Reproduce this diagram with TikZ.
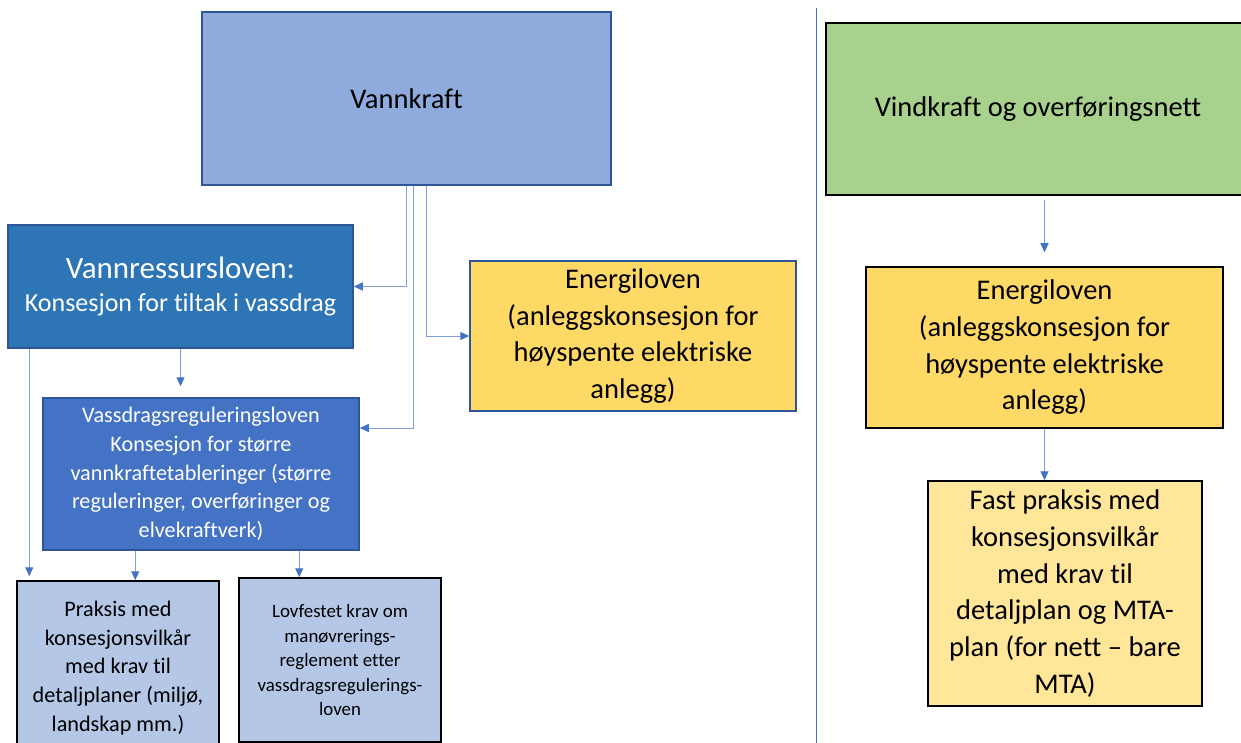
\documentclass[tikz,border=0pt]{standalone}
\usepackage{fontspec}
\setmainfont{Carlito}[Ligatures={TeX,NoCommon}]
\usetikzlibrary{arrows.meta}

\definecolor{vannfill}{HTML}{8FAADC}
\definecolor{vrlfill}{HTML}{2E75B6}
\definecolor{regfill}{HTML}{4472C4}
\definecolor{lightfill}{HTML}{B4C7E7}
\definecolor{energifill}{HTML}{FFD966}
\definecolor{fastfill}{HTML}{FFE699}
\definecolor{vindfill}{HTML}{A9D18E}
\definecolor{edgeblue}{HTML}{2F5597}
\definecolor{lineblue}{HTML}{7FA0DC}
\definecolor{tipblue}{HTML}{4472C4}

\newcommand{\bigtxt}{\fontsize{28.5}{36.7}\selectfont}
\newcommand{\midtxt}{\fontsize{22.2}{28.8}\selectfont}
\newcommand{\smalltxt}{\fontsize{18.9}{24.5}\selectfont}

\tikzstyle{block} = [
        draw=edgeblue, line width=1.5pt, rectangle, inner sep=0pt, align=center
    ]
\tikzstyle{blackblock} = [block, draw=black]
\tikzstyle{tmp} = [coordinate]
\tikzstyle{link} = [->, draw=lineblue, line width=1pt]

\begin{document}
\begin{tikzpicture}[x=1pt, y=-1pt,
        >={Triangle[length=9pt, width=8pt, color=tipblue]}]
    \clip (0,0) rectangle (1241,743);
    % left side: vannkraft
    \node [block, fill=vannfill, minimum width=409pt, minimum height=173pt, font=\bigtxt]
        (vannkraft) at (406.5,98.5) {Vannkraft};
    \node [block, fill=vrlfill, text=white, minimum width=345pt, minimum height=123pt,
        font=\fontsize{26}{33}\selectfont] (vrl) at (180.5,286.5)
        {{\fontsize{31}{33}\selectfont Vannressursloven:}\\Konsesjon for tiltak i vassdrag};
    \node [block, fill=regfill, text=white, minimum width=316pt, minimum height=152pt, font=\midtxt]
        (vrreg) at (201,474) {Vassdragsreguleringsloven\\Konsesjon for større\\vannkraftetableringer (større\\reguleringer, overføringer og\\elvekraftverk)};
    \node [blackblock, fill=lightfill, minimum width=202pt, minimum height=174pt, font=\midtxt]
        (praksis) at (118,668) {Praksis med\\konsesjonsvilkår\\med krav til\\detaljplaner (miljø,\\landskap mm.)};
    \node [blackblock, fill=lightfill, minimum width=202pt, minimum height=164pt, font=\smalltxt]
        (lovfestet) at (340,660) {Lovfestet krav om\\manøvrerings-\\reglement etter\\vassdragsregulerings-\\loven};
    \node [block, fill=energifill, minimum width=326pt, minimum height=150pt, font=\bigtxt]
        (energi1) at (633,336) {Energiloven\\(anleggskonsesjon for\\høyspente elektriske\\anlegg)};
    % right side: vindkraft
    \node [blackblock, fill=vindfill, minimum width=424pt, minimum height=172pt, font=\bigtxt]
        (vind) at (1038,109) {Vindkraft og overføringsnett};
    \node [blackblock, fill=energifill, minimum width=357pt, minimum height=161pt, font=\bigtxt]
        (energi2) at (1044.5,347.5) {Energiloven\\(anleggskonsesjon for\\høyspente elektriske\\anlegg)};
    \node [blackblock, fill=fastfill, minimum width=274pt, minimum height=225pt, font=\bigtxt]
        (fast) at (1065,593.5) {Fast praksis med\\konsesjonsvilkår\\med krav til\\detaljplan og MTA-\\plan (for nett – bare\\MTA)};
    \node [tmp] (v2) at (413,428) {};
    \node [tmp] (divtop) at (816,8) {};
    \node [tmp] (divbot) at (816,743) {};
    \draw [draw=tipblue, line width=1pt] (divtop) -- (divbot);
    \draw [link] (vannkraft.south) |- (vrl.east);
    \draw [link] (vannkraft.south -| v2) -- (v2) -- (v2 -| vrreg.east);
    \draw [link] ([xshift=19.5pt]vannkraft.south) |- (energi1.west);
    \draw [link, shorten >=11pt] (vrl.south) -- (vrl.south |- vrreg.north);
    \draw [link, shorten >=4pt] ([xshift=22pt]vrl.south west)
        -- ([xshift=22pt]vrl.south west |- praksis.north);
    \draw [link] ([xshift=93pt]vrreg.south west) -- ([xshift=93pt]vrreg.south west |- praksis.north);
    \draw [link] ([xshift=257pt]vrreg.south west) -- ([xshift=257pt]vrreg.south west |- lovfestet.north);
    \draw [link, shorten <=4pt, shorten >=14pt] (energi2.north |- vind.south) -- (energi2.north);
    \draw [link] (energi2.south) -- (energi2.south |- fast.north);
\end{tikzpicture}
\end{document}
